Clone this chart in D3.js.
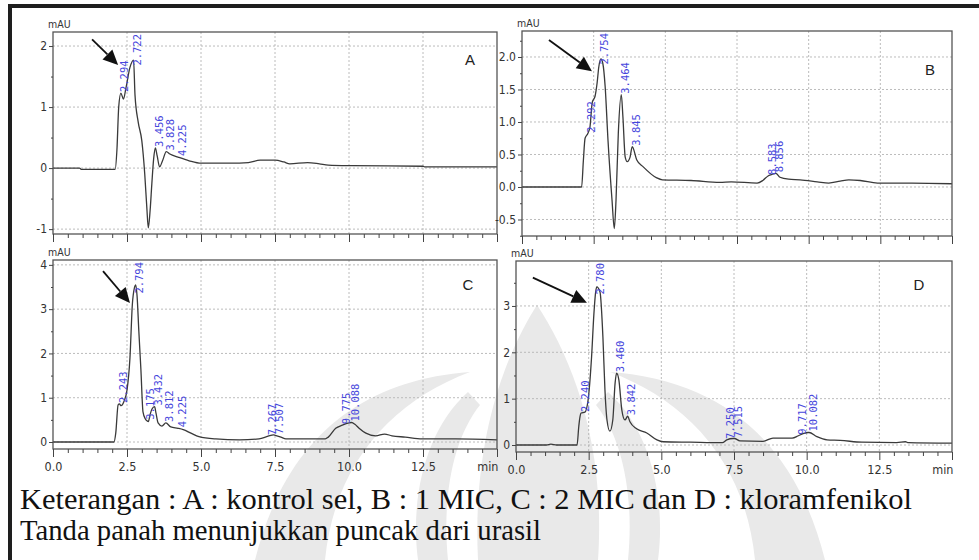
<!DOCTYPE html>
<html>
<head>
<meta charset="utf-8">
<script src="https://cdn.jsdelivr.net/npm/d3@7"></script>
<style>
  body { margin: 0; background: #fff; }
  svg { display: block; }
  .tick text { font-family: "Liberation Sans Narrow", "DejaVu Sans Condensed", "Liberation Sans", sans-serif; fill: #333; }
</style>
</head>
<body>
<svg id="fig" width="979" height="560"></svg>
<script>
// ---- Chromatogram data: [retention time (min), signal (mAU)] ----
const traceA = [[0,0],[0.9,0],[0.95,-0.02],[2.1,-0.02],[2.16,0.3],[2.22,1.0],[2.294,1.23],[2.38,1.13],[2.46,1.3],[2.6,1.65],[2.722,1.77],[2.77,1.2],[2.88,0.75],[3.0,0.45],[3.1,-0.1],[3.17,-0.65],[3.22,-0.98],[3.28,-0.7],[3.34,-0.25],[3.4,0.15],[3.456,0.33],[3.52,0.2],[3.6,0.02],[3.7,0.12],[3.828,0.27],[3.95,0.23],[4.225,0.18],[4.6,0.12],[5.0,0.08],[6.0,0.08],[6.6,0.09],[7.0,0.13],[7.5,0.13],[7.8,0.1],[8.0,0.07],[8.6,0.09],[9.0,0.07],[9.3,0.05],[10.1,0.04],[12.5,0.03],[12.55,0.02],[15,0.02]];
const traceB = [[0,0],[2.08,0],[2.14,0.4],[2.2,0.75],[2.292,0.82],[2.37,0.92],[2.45,1.3],[2.55,1.4],[2.62,1.6],[2.68,1.85],[2.754,1.97],[2.82,1.9],[2.9,1.55],[3.0,0.72],[3.14,-0.2],[3.22,-0.64],[3.28,-0.2],[3.36,0.83],[3.464,1.42],[3.52,1.08],[3.6,0.46],[3.67,0.39],[3.77,0.46],[3.845,0.62],[4.0,0.42],[4.23,0.31],[4.7,0.14],[4.9,0.11],[5.9,0.1],[6.9,0.07],[7.3,0.08],[8.2,0.06],[8.4,0.1],[8.583,0.17],[8.7,0.19],[8.856,0.21],[9.0,0.15],[9.3,0.12],[9.7,0.11],[10.3,0.08],[10.7,0.06],[11.1,0.09],[11.4,0.11],[11.8,0.1],[12.4,0.06],[13.6,0.06],[15,0.05]];
const traceC = [[0,0],[2.06,0],[2.12,0.2],[2.2,0.84],[2.243,0.86],[2.3,0.82],[2.4,0.92],[2.5,1.17],[2.6,1.9],[2.68,3.1],[2.75,3.48],[2.794,3.55],[2.84,3.3],[2.9,2.5],[2.97,1.63],[3.04,0.68],[3.12,0.52],[3.175,0.48],[3.22,0.46],[3.28,0.62],[3.34,0.74],[3.432,0.8],[3.48,0.65],[3.55,0.43],[3.68,0.36],[3.812,0.43],[3.98,0.34],[4.225,0.31],[4.4,0.28],[4.66,0.2],[4.93,0.12],[5.5,0.07],[6.3,0.05],[6.96,0.07],[7.267,0.13],[7.45,0.16],[7.507,0.15],[7.7,0.11],[7.87,0.07],[8.55,0.07],[9.2,0.07],[9.3,0.11],[9.55,0.31],[9.775,0.38],[10.0,0.43],[10.088,0.44],[10.2,0.4],[10.34,0.31],[10.57,0.2],[10.9,0.14],[11.2,0.18],[11.45,0.14],[11.9,0.11],[12.47,0.07],[13.6,0.07],[15,0.05]];
const traceD = [[0,0],[1.05,0],[1.2,0.02],[1.4,0.0],[2.1,0],[2.16,0.4],[2.2,0.6],[2.24,0.69],[2.37,0.71],[2.48,0.97],[2.6,1.9],[2.68,2.83],[2.74,3.3],[2.78,3.41],[2.89,3.3],[2.99,2.33],[3.06,1.19],[3.13,0.54],[3.23,0.3],[3.33,0.54],[3.41,1.34],[3.46,1.55],[3.54,1.4],[3.64,0.76],[3.75,0.54],[3.842,0.62],[3.92,0.5],[4.15,0.35],[4.5,0.26],[4.85,0.11],[5.06,0.07],[6.0,0.06],[7.1,0.05],[7.25,0.11],[7.47,0.14],[7.515,0.14],[7.7,0.09],[8.5,0.08],[8.84,0.15],[9.5,0.15],[9.717,0.2],[9.9,0.25],[10.05,0.27],[10.082,0.27],[10.35,0.18],[10.7,0.11],[11.15,0.1],[11.9,0.06],[13.1,0.05],[13.4,0.07],[13.5,0.05],[15,0.04]];

// ---- Integrated peak retention times (min) ----
const peaksA = [2.294, 2.722, 3.456, 3.828, 4.225];
const peaksB = [2.292, 2.754, 3.464, 3.845, 8.583, 8.856];
const peaksC = [2.243, 2.794, 3.175, 3.432, 3.812, 4.225, 7.267, 7.507, 9.775, 10.088];
const peaksD = [2.240, 2.780, 3.460, 3.842, 7.250, 7.515, 9.717, 10.082];

// ---- Arrows marking the uracil peak: [tail, head] in (min, mAU) ----
const arrowA = [[1.32, 2.11], [2.2, 1.69]];
const arrowB = [[0.94, 2.26], [2.44, 1.78]];
const arrowC = [[1.69, 3.86], [2.6, 3.14]];
const arrowD = [[0.58, 3.61], [2.44, 3.07]];

// ---- Axis ticks ----
const xTicks = [0, 2.5, 5, 7.5, 10, 12.5, 15];
const yTicksA = [-1, 0, 1, 2];
const yTicksB = [-0.5, 0, 0.5, 1, 1.5, 2];
const yTicksC = [0, 1, 2, 3, 4];
const yTicksD = [0, 1, 2, 3];

const captionLines = [
  "Keterangan : A : kontrol sel, B : 1 MIC, C : 2 MIC dan D : kloramfenikol",
  "Tanda panah menunjukkan puncak dari urasil"
];

// ---- Panel layout ----
const panels = [
  { name: "A", trace: traceA, peaks: peaksA, arrow: arrowA, yTicks: yTicksA, yMinor: 0.5,
    x0: 53, x1: 497, top: 32, bottom: 234, yDom: [-1.08, 2.23], fmt: d => String(d),
    xLabels: false, letter: [470, 59] },
  { name: "B", trace: traceB, peaks: peaksB, arrow: arrowB, yTicks: yTicksB, yMinor: 0.25,
    x0: 522, x1: 952, top: 31, bottom: 236, yDom: [-0.754, 2.4], fmt: d => d.toFixed(1),
    xLabels: false, letter: [930, 69] },
  { name: "C", trace: traceC, peaks: peaksC, arrow: arrowC, yTicks: yTicksC, yMinor: 0.5,
    x0: 53, x1: 497, top: 260, bottom: 449, yDom: [-0.158, 4.11], fmt: d => String(d),
    xLabels: true, letter: [468, 284] },
  { name: "D", trace: traceD, peaks: peaksD, arrow: arrowD, yTicks: yTicksD, yMinor: 0.5,
    x0: 516, x1: 952, top: 261, bottom: 452, yDom: [-0.151, 3.97], fmt: d => String(d),
    xLabels: true, letter: [919, 284] }
];

const svg = d3.select("#fig");

// faint background emblem
const emblem = svg.append("g").attr("fill", "#e9e9e9");
emblem.append("path").attr("d", "M537,305 C505,355 472,440 478,560 L598,560 C606,440 570,355 537,305 Z");
emblem.append("path").attr("d", "M255,560 C285,440 360,380 470,372 C395,400 335,460 325,560 Z");
emblem.append("path").attr("d", "M825,560 C795,440 720,380 610,372 C685,400 745,460 755,560 Z");
emblem.append("path").attr("d", "M468,392 C425,430 410,500 418,560 L448,560 C442,500 452,440 480,405 Z");
emblem.append("path").attr("d", "M608,392 C651,430 666,500 658,560 L628,560 C634,500 624,440 596,405 Z");

// outer frame
svg.append("rect").attr("x", 8).attr("y", 4).attr("width", 971).attr("height", 4).attr("fill", "#1e1e1e");
svg.append("rect").attr("x", 8).attr("y", 4).attr("width", 4).attr("height", 556).attr("fill", "#1e1e1e");

function interp(trace, t) {
  for (let i = 1; i < trace.length; i++) {
    if (trace[i][0] >= t) {
      const [t0, v0] = trace[i - 1], [t1, v1] = trace[i];
      return v0 + (v1 - v0) * (t - t0) / (t1 - t0);
    }
  }
  return trace[trace.length - 1][1];
}

panels.forEach((p, idx) => {
  const g = svg.append("g");
  const x = d3.scaleLinear().domain([0, 15]).range([p.x0, p.x1]);
  const y = d3.scaleLinear().domain(p.yDom).range([p.bottom, p.top]);

  // grid
  g.append("g").selectAll("line").data(xTicks.slice(1, -1)).join("line")
    .attr("x1", d => x(d)).attr("x2", d => x(d)).attr("y1", p.top).attr("y2", p.bottom)
    .attr("stroke", "#b4b4b4").attr("stroke-width", 0.9).attr("stroke-dasharray", "2,2");
  g.append("g").selectAll("line").data(p.yTicks).join("line")
    .attr("x1", p.x0).attr("x2", p.x1).attr("y1", d => y(d)).attr("y2", d => y(d))
    .attr("stroke", "#b4b4b4").attr("stroke-width", 0.9).attr("stroke-dasharray", "2,2");

  // trace
  const clipId = "clip" + idx;
  g.append("clipPath").attr("id", clipId).append("rect")
    .attr("x", p.x0).attr("y", p.top).attr("width", p.x1 - p.x0).attr("height", p.bottom - p.top);
  g.append("path").datum(p.trace)
    .attr("clip-path", `url(#${clipId})`)
    .attr("fill", "none").attr("stroke", "#3a3a3a").attr("stroke-width", 1.3)
    .attr("stroke-linejoin", "round")
    .attr("d", d3.line().x(d => x(d[0])).y(d => y(d[1])).curve(d3.curveMonotoneX));

  // plot box
  g.append("rect").attr("x", p.x0).attr("y", p.top).attr("width", p.x1 - p.x0).attr("height", p.bottom - p.top)
    .attr("fill", "none").attr("stroke", "#555").attr("stroke-width", 1.3);

  // y axis
  const ya = g.append("g").attr("transform", `translate(${p.x0},0)`)
    .call(d3.axisLeft(y).tickValues(p.yTicks).tickSize(4).tickPadding(2).tickFormat(p.fmt));
  ya.select(".domain").remove();
  ya.selectAll("text").attr("font-size", 12);
  ya.selectAll("line").attr("stroke", "#444");
  const yMinorVals = d3.range(Math.ceil(p.yDom[0] / p.yMinor) * p.yMinor, p.yDom[1], p.yMinor)
    .filter(v => !p.yTicks.some(t => Math.abs(t - v) < 1e-6));
  const ym = g.append("g").attr("transform", `translate(${p.x0},0)`)
    .call(d3.axisLeft(y).tickValues(yMinorVals).tickSize(2).tickFormat(""));
  ym.select(".domain").remove();
  ym.selectAll("line").attr("stroke", "#444");

  // x axis
  const xa = g.append("g").attr("transform", `translate(0,${p.bottom})`)
    .call(d3.axisBottom(x).tickValues(xTicks).tickSize(8).tickPadding(5)
      .tickFormat(p.xLabels ? (d => d === 15 ? "min" : d.toFixed(1)) : ""));
  xa.select(".domain").remove();
  xa.selectAll("line").attr("stroke", "#444");
  xa.selectAll("text").attr("font-size", 12.5)
    .attr("text-anchor", d => d === 15 ? "end" : "middle")
    .attr("dx", d => d === 15 ? 1 : 0);
  const xm = g.append("g").attr("transform", `translate(0,${p.bottom})`)
    .call(d3.axisBottom(x).tickValues(d3.range(0.5, 15, 0.5).filter(v => v % 2.5 !== 0)).tickSize(4).tickFormat(""));
  xm.select(".domain").remove();
  xm.selectAll("line").attr("stroke", "#444");

  // unit label
  g.append("text").attr("x", p.x0 - 5).attr("y", p.top - 4)
    .attr("font-family", '"Liberation Sans Narrow", "DejaVu Sans Condensed", sans-serif')
    .attr("font-size", 10.5).attr("fill", "#333").text("mAU");

  // panel letter
  g.append("text").attr("x", p.letter[0]).attr("y", p.letter[1] + 5.5)
    .attr("text-anchor", "middle").attr("font-family", "Liberation Sans, Arial, sans-serif")
    .attr("font-size", 15).attr("fill", "#222").text(p.name);

  // peak retention-time labels
  const lblSize = 10.5, charW = 6.32;
  g.append("g").selectAll("text").data(p.peaks).join("text")
    .attr("transform", d => {
      const s = d.toFixed(3);
      const len = s.length * charW;
      const py = Math.max(y(interp(p.trace, d)) - 1, p.top + len + 2);
      return `translate(${x(d) + 7.5},${py}) rotate(-90)`;
    })
    .attr("font-family", '"DejaVu Sans Mono", monospace')
    .attr("font-size", lblSize).attr("fill", "#4646dc")
    .text(d => d.toFixed(3));

  // uracil arrow
  const [t0, t1] = p.arrow;
  const ax0 = x(t0[0]), ay0 = y(t0[1]), ax1 = x(t1[0]), ay1 = y(t1[1]);
  const ang = Math.atan2(ay1 - ay0, ax1 - ax0);
  const hl = 15, hw = 7;
  const bx = ax1 - hl * Math.cos(ang), by = ay1 - hl * Math.sin(ang);
  g.append("line").attr("x1", ax0).attr("y1", ay0).attr("x2", bx).attr("y2", by)
    .attr("stroke", "#111").attr("stroke-width", 1.8);
  g.append("path")
    .attr("d", `M${ax1},${ay1}L${bx + hw * Math.sin(ang)},${by - hw * Math.cos(ang)}L${bx - hw * Math.sin(ang)},${by + hw * Math.cos(ang)}Z`)
    .attr("fill", "#111");
});

// caption
const cap = svg.append("g").attr("font-family", '"Liberation Serif", "Times New Roman", serif')
  .attr("font-size", 30).attr("fill", "#111");
const capWidths = [892, 521];
cap.selectAll("text").data(captionLines).join("text")
  .attr("x", 20).attr("y", (d, i) => 509 + i * 31)
  .attr("textLength", (d, i) => capWidths[i]).attr("lengthAdjust", "spacingAndGlyphs")
  .text(d => d);
</script>
</body>
</html>
